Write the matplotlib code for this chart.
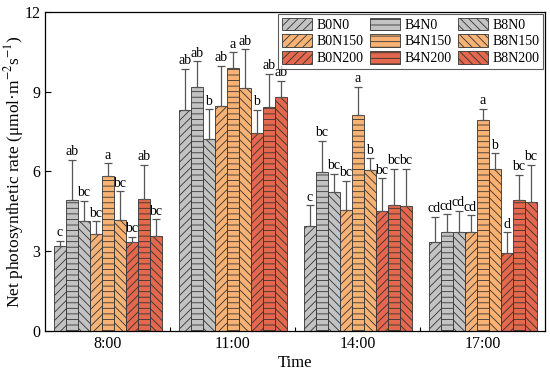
import numpy as np
import matplotlib
matplotlib.use('Agg')
import matplotlib.pyplot as plt
from matplotlib.ticker import FixedLocator

plt.rcParams['font.family'] = 'Liberation Serif'
plt.rcParams['mathtext.fontset'] = 'stix'
plt.rcParams['hatch.linewidth'] = 0.6

times = ['8:00', '11:00', '14:00', '17:00']
treatments = ['B0N0', 'B4N0', 'B8N0', 'B0N150', 'B4N150', 'B8N150', 'B0N200', 'B4N200', 'B8N200']

# mean values, one list per time point (order as treatments)
pn_800 = [3.21, 4.93, 4.15, 3.64, 5.84, 4.18, 3.35, 4.98, 3.56]
pn_1100 = [8.31, 9.16, 7.21, 8.45, 9.88, 9.13, 7.45, 8.41, 8.80]
pn_1400 = [3.93, 5.99, 5.23, 4.55, 8.14, 6.05, 4.51, 4.73, 4.69]
pn_1700 = [3.36, 3.74, 3.71, 3.74, 7.95, 6.10, 2.94, 4.93, 4.85]

err_800 = [0.19, 1.50, 0.75, 0.49, 0.47, 1.07, 0.18, 1.26, 0.64]
err_1100 = [1.55, 0.99, 1.13, 1.52, 0.60, 1.47, 0.88, 1.26, 0.61]
err_1400 = [0.79, 1.17, 0.69, 1.10, 1.05, 0.44, 1.24, 1.37, 1.41]
err_1700 = [0.94, 0.65, 0.80, 0.61, 0.40, 0.59, 0.77, 0.94, 1.39]

let_800 = ['c', 'ab', 'bc', 'bc', 'a', 'bc', 'bc', 'ab', 'bc']
let_1100 = ['ab', 'ab', 'b', 'ab', 'a', 'ab', 'b', 'ab', 'ab']
let_1400 = ['c', 'bc', 'bc', 'bc', 'a', 'b', 'bc', 'bc', 'bc']
let_1700 = ['cd', 'cd', 'cd', 'cd', 'a', 'b', 'd', 'bc', 'bc']

pn = np.array([pn_800, pn_1100, pn_1400, pn_1700])
err = np.array([err_800, err_1100, err_1400, err_1700])
letters = [let_800, let_1100, let_1400, let_1700]

colors = ['#c3c3c3'] * 3 + ['#f8b274'] * 3 + ['#e3684e'] * 3
hatches = ['////', '---', '\\\\\\\\'] * 3

fig = plt.figure(figsize=(5.5, 3.76), dpi=100)
ax = fig.add_axes([0.082, 0.12, 0.909, 0.848])

x = np.arange(1, len(times) + 1)
w = 0.096
bars = []
for i, t in enumerate(treatments):
    xi = x + (i - 4) * w
    b = ax.bar(xi, pn[:, i], w, color=colors[i], edgecolor='#333333',
               linewidth=0.6, hatch=hatches[i], label=t, zorder=2)
    ax.errorbar(xi, pn[:, i], yerr=[np.zeros(len(times)), err[:, i]], fmt='none',
                ecolor='#555555', elinewidth=0.9, capsize=3, capthick=0.9, zorder=3)
    for j in range(len(times)):
        ax.text(xi[j], pn[j, i] + err[j, i] + 0.06, letters[j][i], ha='center',
                va='bottom', fontsize=10)
    bars.append(b)

ax.set_xlim(0.5, 4.5)
ax.set_ylim(0, 12)
ax.set_yticks([0, 3, 6, 9, 12])
ax.set_xticks(x)
ax.set_xticklabels(times)
ax.xaxis.set_minor_locator(FixedLocator([1.5, 2.5, 3.5]))
ax.tick_params(direction='in', labelsize=11.5, length=4, width=0.8)
ax.tick_params(axis='x', which='minor', direction='in', length=3, width=0.8)
for s in ax.spines.values():
    s.set_linewidth(0.9)

ax.set_xlabel('Time', fontsize=12, labelpad=2)
ax.set_ylabel('Net photosynthetic rate (μmol·m$^{-2}$s$^{-1}$)', fontsize=12.5)
ax.yaxis.set_label_coords(-0.038, 0.5)

order = [0, 3, 6, 1, 4, 7, 2, 5, 8]
leg = ax.legend([bars[k] for k in order], [treatments[k] for k in order], ncol=3,
                loc='upper right', fontsize=10, frameon=True, fancybox=False,
                edgecolor='#333333', handlelength=2.2, handleheight=1.0,
                columnspacing=0.45, handletextpad=0.3, labelspacing=0.2,
                borderpad=0.25, borderaxespad=0.15)
leg.get_frame().set_linewidth(0.8)

fig.savefig('out.png', dpi=100)
